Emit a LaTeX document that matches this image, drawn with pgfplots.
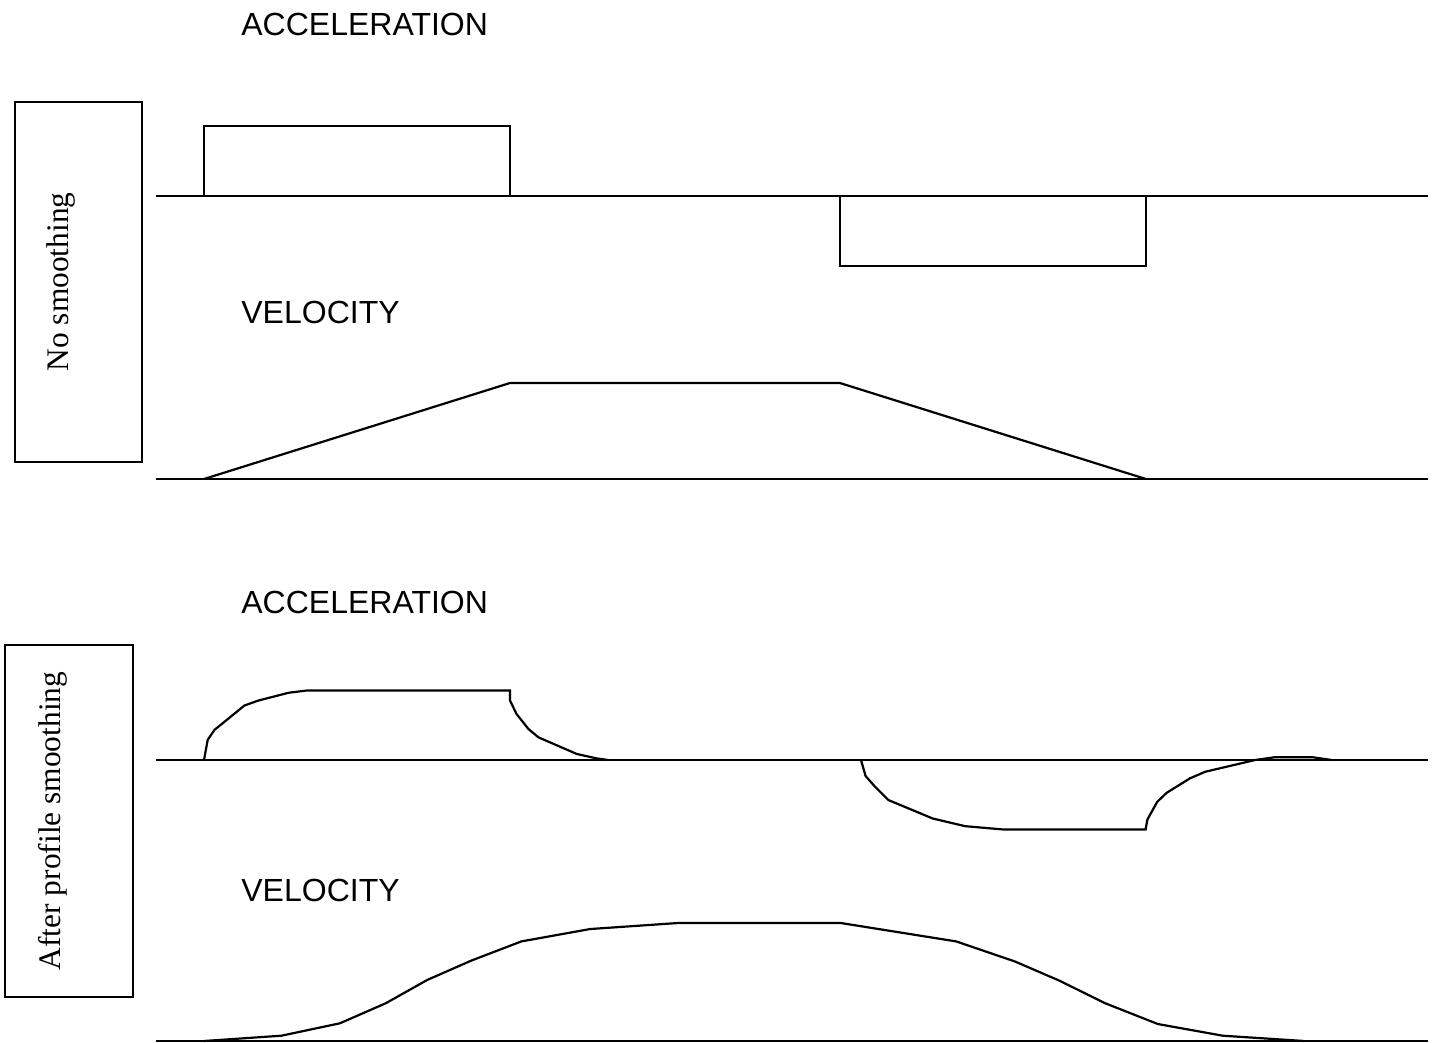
\documentclass[border=0pt]{standalone}
\usepackage{fontspec}
\setmainfont{Liberation Serif}
\newfontfamily\arial{Liberation Sans}
\usepackage{pgfplots}
\pgfplotsset{compat=1.18}

% 1 px of the reference = 0.5pt; time unit = length of the accel phase
\pgfplotsset{
    profile/.style={
        hide axis,
        scale only axis,
        clip=false,
        width=636pt,
        xmin=-0.1569, xmax=4.0,
        every axis plot post/.append style={black, line width=1.1pt,
            mark=none, sharp plot},
    },
}

\begin{document}
\begin{tikzpicture}
\path (0pt,0pt) rectangle (719pt,-521pt);

% ---- no smoothing: acceleration
\begin{axis}[profile, at={(78pt,-133pt)}, anchor=south west,
    ymin=-1, ymax=1, height=70pt]
\addplot coordinates {(-0.1569,0) (4.0,0)};
\addplot coordinates {(0,0) (0,1) (1,1) (1,0)};
\addplot coordinates {(2.078,0) (2.078,-1) (3.078,-1) (3.078,0)};
\end{axis}

% ---- no smoothing: velocity
\begin{axis}[profile, at={(78pt,-239.5pt)}, anchor=south west,
    ymin=0, ymax=1, height=48pt]
\addplot coordinates {(-0.1569,0) (4.0,0)};
\addplot coordinates {(0,0) (1.0,1) (2.078,1) (3.078,0)};
\end{axis}

% ---- smoothed: acceleration
\begin{axis}[profile, at={(78pt,-414.75pt)}, anchor=south west,
    ymin=-1, ymax=1, height=69.5pt]
\addplot coordinates {(-0.1569,0) (4.0,0)};
\addplot coordinates {
    (0,0) (0.012,0.289) (0.034,0.433) (0.085,0.615) (0.132,0.784)
    (0.178,0.856) (0.276,0.967) (0.336,1) (1.0,1) (1.0,0.856)
    (1.021,0.664) (1.060,0.447) (1.093,0.326) (1.218,0.087)
    (1.283,0.023) (1.321,0)
};
\addplot coordinates {
    (2.147,0) (2.162,-0.231) (2.193,-0.385) (2.237,-0.577) (2.381,-0.841)
    (2.487,-0.952) (2.613,-1) (3.077,-1) (3.083,-0.856) (3.115,-0.602)
    (3.146,-0.472) (3.222,-0.264) (3.272,-0.169) (3.435,0)
    (3.498,0.039) (3.624,0.039) (3.686,0)
};
\end{axis}

% ---- smoothed: velocity
\begin{axis}[profile, at={(78pt,-520.5pt)}, anchor=south west,
    ymin=0, ymax=1, height=59pt]
\addplot coordinates {(-0.1569,0) (4.0,0)};
\addplot coordinates {
    (0,0) (0.253,0.045) (0.444,0.150) (0.594,0.320) (0.730,0.518)
    (0.874,0.682) (1.037,0.844) (1.262,0.949) (1.549,1) (2.081,1)
    (2.458,0.844) (2.650,0.674) (2.794,0.513) (2.945,0.320)
    (3.117,0.144) (3.329,0.045) (3.596,0)
};
\end{axis}

% ---- titles
\begin{scope}[every node/.style={anchor=base west, inner sep=0pt,
        font=\arial\fontsize{16}{19}\selectfont}]
\node at (120.5pt,-18pt) {ACCELERATION};
\node at (120.5pt,-161.7pt) {VELOCITY};
\node at (120.5pt,-306.7pt) {ACCELERATION};
\node at (120.5pt,-450.8pt) {VELOCITY};
\end{scope}

% ---- side labels
\draw[line width=0.75pt] (7.5pt,-51pt) rectangle (71pt,-231pt);
\node[rotate=90, inner sep=0pt, font=\fontsize{15.7}{19}\selectfont]
    at (30.5pt,-141pt) {No smoothing};
\draw[line width=0.75pt] (2.5pt,-322.5pt) rectangle (66.5pt,-498.5pt);
\node[rotate=90, inner sep=0pt, font=\fontsize{15.7}{19}\selectfont]
    at (26.5pt,-410.5pt) {After profile smoothing};
\end{tikzpicture}
\end{document}
